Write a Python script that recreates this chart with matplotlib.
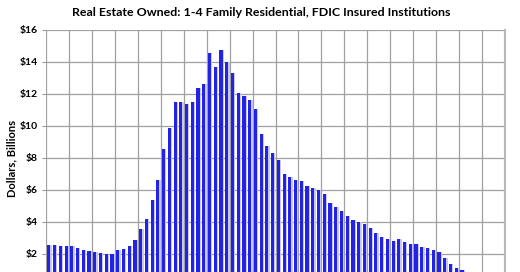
import numpy as np
import matplotlib.pyplot as plt

# quarterly REO values, $ billions
reo = [2.56, 2.56, 2.52, 2.50, 2.50, 2.35, 2.25, 2.19, 2.15, 2.08,
       2.00, 2.00, 2.23, 2.29, 2.52, 2.90, 3.56, 4.21, 5.35, 6.60,
       8.56, 9.85, 11.48, 11.48, 11.35, 11.48, 12.40, 12.60, 14.54, 13.70,
       14.73, 14.02, 13.29, 12.04, 11.88, 11.60, 11.08, 9.50, 8.75, 8.33,
       7.88, 6.98, 6.79, 6.63, 6.56, 6.25, 6.10, 6.00, 5.73, 5.21,
       4.92, 4.67, 4.40, 4.13, 4.00, 3.88, 3.60, 3.31, 3.06, 2.92,
       2.83, 2.92, 2.77, 2.63, 2.60, 2.46, 2.40, 2.25, 2.15, 1.73,
       1.40, 1.13, 1.00]
n_quarters = 80
y_ticks = [0, 2, 4, 6, 8, 10, 12, 14, 16]

fig = plt.figure(figsize=(5.2, 2.72), dpi=100)
# the bottom of the plot runs off the picture, like the original crop
ax = fig.add_axes([46/520, -14/272, 459/520, 256/272])

x = np.arange(len(reo)) + 0.5
# light shadow behind each bar, then the bar itself
ax.bar(x + 0.22, reo, width=0.55, color='#c8c8f0', zorder=2)
ax.bar(x, reo, width=0.55, color='#2323e6', zorder=3)

ax.set_xlim(0, n_quarters)
ax.set_ylim(0, 16)
ax.set_xticks(np.arange(0, n_quarters + 1, 4))
ax.set_xticklabels([])
ax.set_yticks(y_ticks)
# $0 sits below the visible area, so leave its label blank
ax.set_yticklabels(['' if v == 0 else '$%d' % v for v in y_ticks], fontsize=7.5,
                   fontweight='bold', family='Lato')
ax.tick_params(axis='y', length=3, color='#999999', pad=3)
ax.tick_params(axis='x', length=0)
ax.grid(True, color='#a0a0a0', linewidth=0.9, zorder=0)
ax.set_axisbelow(True)
for side in ['top', 'left', 'bottom']:
    ax.spines[side].set_visible(False)
ax.spines['right'].set_color('#b8b8b8')
ax.spines['right'].set_linewidth(1.5)

ax.set_ylabel('Dollars, Billions', fontsize=8, fontweight='bold', family='Lato')
ax.yaxis.set_label_coords(-0.074, 0.5)
ax.yaxis.label.set_va('center')
fig.text(0.502, 0.955, 'Real Estate Owned: 1-4 Family Residential, FDIC Insured Institutions',
         ha='center', va='center', fontsize=8.9, fontweight='bold', family='Lato')

fig.savefig('out.png', dpi=100)
